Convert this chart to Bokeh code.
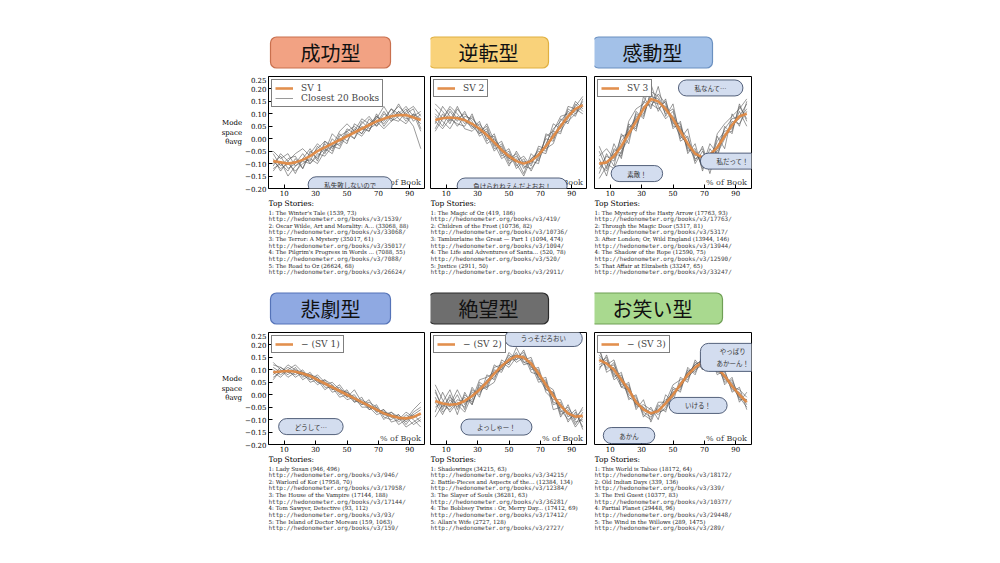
import numpy as np
from bokeh.plotting import figure
from bokeh.models import Range1d, FixedTicker, Label, Legend, LegendItem
from bokeh.layouts import row, column
from bokeh.core.properties import value
from bokeh.embed import file_html
from bokeh.resources import INLINE

x_pct = list(np.linspace(3, 97, 21))
y_ticks = [-0.20, -0.15, -0.10, -0.05, 0.00, 0.05, 0.10, 0.15, 0.20, 0.25]
y_tick_labels = ["−0.20", "−0.15", "−0.10", "−0.05", "0.00", "0.05", "0.10", "0.15", "0.20", "0.25"]
x_ticks = [10, 30, 50, 70, 90]

sv = [
    [-0.09,-0.095,-0.10,-0.095,-0.085,-0.07,-0.05,-0.035,-0.02,-0.005,0.01,0.025,0.04,0.055,0.07,0.08,0.09,0.095,0.095,0.085,0.075],
    [0.075,0.082,0.085,0.082,0.075,0.06,0.04,0.015,-0.015,-0.045,-0.07,-0.09,-0.10,-0.09,-0.065,-0.03,0.01,0.05,0.09,0.12,0.135],
    [-0.10,-0.095,-0.07,-0.03,0.02,0.07,0.12,0.16,0.15,0.12,0.08,0.03,-0.02,-0.06,-0.075,-0.065,-0.035,0.01,0.055,0.09,0.10],
    [0.09,0.093,0.095,0.092,0.085,0.075,0.06,0.045,0.03,0.015,0.0,-0.015,-0.03,-0.045,-0.06,-0.075,-0.085,-0.093,-0.095,-0.09,-0.075],
    [-0.025,-0.035,-0.04,-0.037,-0.025,-0.005,0.02,0.05,0.085,0.115,0.14,0.155,0.15,0.125,0.085,0.04,-0.005,-0.045,-0.075,-0.088,-0.085],
    [0.14,0.125,0.10,0.06,0.02,-0.03,-0.06,-0.075,-0.065,-0.035,0.0,0.04,0.08,0.11,0.13,0.13,0.11,0.075,0.035,0.0,-0.03],
]

books_1 = [
    [-0.05,-0.08,-0.06,-0.11,-0.09,-0.10,-0.06,-0.07,-0.03,-0.04,0.02,0.00,0.05,0.03,0.09,0.07,0.12,0.10,0.13,0.09,0.06],
    [-0.12,-0.10,-0.13,-0.08,-0.12,-0.05,-0.08,-0.02,-0.05,0.02,-0.01,0.04,0.02,0.08,0.05,0.10,0.08,0.11,0.07,0.10,0.08],
    [-0.08,-0.13,-0.09,-0.14,-0.08,-0.09,-0.03,-0.06,0.00,-0.03,0.03,0.05,0.02,0.06,0.09,0.06,0.10,0.13,0.10,0.12,0.04],
    [-0.10,-0.07,-0.12,-0.10,-0.06,-0.10,-0.07,-0.04,-0.06,0.01,0.03,0.00,0.07,0.04,0.06,0.11,0.07,0.09,0.12,0.07,0.10],
    [-0.06,-0.11,-0.08,-0.07,-0.12,-0.06,-0.02,-0.05,-0.03,-0.02,0.04,0.02,0.06,0.09,0.05,0.08,0.12,0.08,0.06,0.10,0.03],
    [-0.13,-0.09,-0.15,-0.11,-0.08,-0.04,-0.09,-0.01,-0.04,0.00,-0.02,0.06,0.04,0.03,0.10,0.05,0.09,0.14,0.09,0.05,-0.04],
    [-0.09,-0.12,-0.10,-0.13,-0.10,-0.08,-0.10,-0.05,0.02,-0.01,0.01,0.03,0.08,0.06,0.08,0.13,0.08,0.07,0.11,0.13,0.09],
    [-0.11,-0.06,-0.09,-0.06,-0.04,-0.07,-0.04,-0.01,-0.03,0.03,0.06,0.03,0.01,0.05,0.07,0.04,0.07,0.11,0.08,0.09,0.11],
]
books_2 = [
    [0.12,0.08,0.13,0.10,0.06,0.09,0.03,0.05,-0.03,-0.01,-0.08,-0.06,-0.12,-0.08,-0.05,-0.06,0.03,0.02,0.12,0.10,0.15],
    [0.04,0.10,0.06,0.12,0.08,0.04,0.07,-0.01,0.02,-0.06,-0.04,-0.11,-0.08,-0.13,-0.07,0.00,-0.01,0.08,0.06,0.14,0.11],
    [0.09,0.05,0.11,0.07,0.11,0.05,0.02,0.04,-0.04,-0.03,-0.10,-0.08,-0.14,-0.06,-0.09,-0.02,0.04,0.07,0.11,0.09,0.16],
    [0.06,0.13,0.09,0.05,0.09,0.08,0.05,0.00,0.01,-0.07,-0.05,-0.12,-0.09,-0.10,-0.04,-0.05,0.02,0.03,0.08,0.15,0.12],
    [0.10,0.07,0.04,0.09,0.04,0.03,0.06,0.02,-0.05,-0.02,-0.09,-0.07,-0.11,-0.12,-0.08,0.01,0.03,0.09,0.10,0.11,0.14],
    [0.03,0.08,0.12,0.08,0.10,0.07,0.01,0.03,-0.02,-0.08,-0.06,-0.10,-0.15,-0.08,-0.06,-0.03,0.06,0.04,0.13,0.12,0.10],
    [0.14,0.11,0.07,0.13,0.07,0.05,0.04,-0.02,0.00,-0.04,-0.08,-0.09,-0.07,-0.11,-0.03,-0.04,-0.02,0.06,0.07,0.10,0.13],
    [0.07,0.04,0.08,0.06,0.05,0.10,0.02,0.06,-0.01,-0.05,-0.11,-0.05,-0.10,-0.09,-0.10,0.02,0.00,0.05,0.09,0.13,0.17],
]
books_3 = [
    [-0.05,-0.12,-0.02,-0.08,0.06,0.03,0.17,0.12,0.21,0.09,0.14,0.00,0.04,-0.09,-0.03,-0.12,0.01,-0.04,0.10,0.05,0.15],
    [-0.14,-0.06,-0.11,0.02,-0.02,0.11,0.08,0.19,0.11,0.16,0.04,0.07,-0.06,-0.02,-0.13,-0.04,-0.08,0.05,0.02,0.14,0.07],
    [-0.08,-0.15,-0.04,-0.06,0.07,0.12,0.14,0.22,0.13,0.08,0.11,-0.01,0.01,-0.10,-0.05,-0.10,0.02,0.06,0.09,0.12,0.16],
    [-0.12,-0.07,-0.09,-0.01,0.03,0.05,0.15,0.13,0.18,0.14,0.05,0.05,-0.04,-0.05,-0.11,-0.02,-0.06,0.00,0.07,0.06,0.11],
    [-0.03,-0.10,-0.12,-0.05,0.00,0.09,0.10,0.17,0.16,0.10,0.12,0.02,-0.03,-0.08,-0.07,-0.09,-0.01,0.03,0.04,0.11,0.05],
    [-0.16,-0.11,-0.05,-0.04,0.05,0.04,0.13,0.14,0.12,0.15,0.06,0.06,-0.05,-0.04,-0.12,-0.06,-0.04,0.04,0.08,0.09,0.14],
    [-0.07,-0.04,-0.08,0.01,0.02,0.10,0.09,0.19,0.17,0.11,0.09,0.04,0.00,-0.07,-0.04,-0.14,-0.03,0.02,0.03,0.13,0.08],
    [-0.10,-0.13,-0.06,-0.07,0.04,0.08,0.12,0.15,0.14,0.13,0.07,0.01,-0.02,-0.06,-0.09,-0.07,-0.05,0.01,0.06,0.08,0.12],
]
books_4 = [
    [0.11,0.09,0.12,0.10,0.09,0.08,0.07,0.04,0.05,0.02,0.01,-0.01,-0.03,-0.04,-0.07,-0.06,-0.09,-0.08,-0.11,-0.07,-0.05],
    [0.08,0.11,0.09,0.08,0.10,0.06,0.08,0.05,0.02,0.03,-0.01,0.00,-0.04,-0.03,-0.05,-0.08,-0.07,-0.10,-0.09,-0.12,-0.10],
    [0.13,0.10,0.08,0.11,0.07,0.09,0.05,0.06,0.04,0.00,0.02,-0.03,-0.01,-0.06,-0.04,-0.09,-0.10,-0.08,-0.12,-0.08,-0.06],
    [0.07,0.09,0.11,0.09,0.08,0.06,0.07,0.03,0.03,0.01,-0.02,-0.01,-0.05,-0.05,-0.08,-0.07,-0.08,-0.11,-0.08,-0.10,-0.13],
    [0.10,0.08,0.10,0.07,0.09,0.07,0.04,0.06,0.02,0.04,0.00,-0.03,-0.02,-0.04,-0.06,-0.08,-0.09,-0.09,-0.10,-0.06,-0.03],
    [0.12,0.11,0.09,0.10,0.06,0.08,0.06,0.02,0.04,0.01,0.01,-0.02,-0.04,-0.02,-0.07,-0.06,-0.11,-0.10,-0.07,-0.09,-0.08],
    [0.09,0.07,0.10,0.12,0.09,0.05,0.06,0.05,0.01,0.02,-0.01,0.02,-0.03,-0.06,-0.05,-0.10,-0.07,-0.09,-0.13,-0.11,-0.09],
    [0.06,0.10,0.07,0.09,0.08,0.08,0.05,0.04,0.03,-0.01,0.00,-0.02,-0.03,-0.05,-0.06,-0.07,-0.08,-0.12,-0.10,-0.08,-0.11],
]
books_5 = [
    [0.02,-0.06,0.00,-0.08,0.01,-0.04,0.05,0.03,0.12,0.10,0.17,0.14,0.18,0.10,0.11,0.02,0.01,-0.08,-0.06,-0.12,-0.07],
    [-0.07,0.01,-0.05,0.00,-0.06,0.03,-0.01,0.08,0.06,0.14,0.12,0.19,0.13,0.14,0.06,0.07,-0.04,-0.03,-0.11,-0.07,-0.13],
    [-0.03,-0.08,-0.02,-0.05,-0.01,-0.04,0.04,0.02,0.10,0.09,0.15,0.16,0.14,0.15,0.07,0.04,0.02,-0.07,-0.05,-0.10,-0.05],
    [0.04,-0.02,-0.07,-0.03,-0.05,0.02,0.00,0.06,0.08,0.13,0.11,0.15,0.17,0.11,0.10,0.01,-0.02,-0.02,-0.09,-0.06,-0.14],
    [-0.05,-0.03,0.02,-0.06,0.00,-0.03,0.03,0.05,0.07,0.11,0.16,0.13,0.15,0.12,0.05,0.06,-0.06,-0.05,-0.07,-0.13,-0.09],
    [-0.01,-0.07,-0.04,0.02,-0.04,0.01,0.01,0.04,0.11,0.12,0.13,0.17,0.12,0.13,0.09,0.03,0.00,-0.06,-0.10,-0.08,-0.11],
    [-0.09,-0.04,-0.06,-0.02,-0.03,-0.02,0.06,0.07,0.09,0.10,0.14,0.14,0.16,0.09,0.08,0.05,-0.03,-0.04,-0.08,-0.09,-0.06],
    [0.01,-0.05,-0.01,-0.04,-0.07,0.00,0.02,0.03,0.05,0.12,0.13,0.16,0.13,0.12,0.07,0.02,0.01,-0.09,-0.04,-0.11,-0.10],
]
books_6 = [
    [0.18,0.10,0.13,0.03,0.05,-0.06,-0.02,-0.11,-0.04,-0.07,0.03,0.01,0.11,0.08,0.16,0.10,0.14,0.04,0.07,-0.03,0.01],
    [0.10,0.16,0.07,0.09,-0.02,0.00,-0.09,-0.05,-0.10,0.00,-0.03,0.07,0.05,0.14,0.10,0.16,0.08,0.10,0.01,0.03,-0.06],
    [0.16,0.12,0.14,0.05,0.03,-0.04,-0.05,-0.08,-0.06,-0.04,0.02,0.03,0.09,0.12,0.14,0.12,0.13,0.06,0.05,-0.02,-0.02],
    [0.12,0.14,0.08,0.07,0.00,-0.02,-0.07,-0.09,-0.05,-0.02,-0.01,0.05,0.07,0.10,0.12,0.15,0.09,0.08,0.02,0.01,-0.04],
    [0.19,0.09,0.11,0.04,0.04,-0.05,-0.04,-0.06,-0.08,-0.05,0.01,0.02,0.10,0.09,0.15,0.11,0.12,0.05,0.06,-0.01,-0.05],
    [0.13,0.15,0.06,0.08,0.01,-0.01,-0.08,-0.10,-0.03,-0.03,0.04,0.06,0.06,0.13,0.11,0.14,0.10,0.09,0.03,0.02,-0.01],
    [0.15,0.11,0.12,0.06,-0.01,-0.03,-0.06,-0.07,-0.07,-0.06,0.00,0.04,0.09,0.11,0.13,0.12,0.11,0.07,0.04,0.00,-0.03],
    [0.11,0.13,0.09,0.03,0.02,-0.04,-0.05,-0.08,-0.06,-0.03,0.01,0.03,0.08,0.12,0.14,0.14,0.10,0.07,0.03,-0.01,-0.02],
]
books = [books_1, books_2, books_3, books_4, books_5, books_6]

type_names = ["成功型", "逆転型", "感動型", "悲劇型", "絶望型", "お笑い型"]
type_fill = ["#f2a283", "#f9d27a", "#a3c1e8", "#8fa9e2", "#6e6e6e", "#a9d98f"]
type_line = ["#c9704e", "#e0b040", "#6a90c0", "#5573b8", "#2a2a2a", "#6f9f55"]
legend_labels = ["SV 1", "SV 2", "SV 3", "− (SV 1)", "− (SV 2)", "− (SV 3)"]

stories = [
    [("1: The Winter's Tale (1539, 73)", "1539"), ("2: Oscar Wilde, Art and Morality: A... (33068, 88)", "33068"),
     ("3: The Terror: A Mystery (35017, 61)", "35017"), ("4: The Pilgrim's Progress in Words ... (7088, 55)", "7088"),
     ("5: The Road to Oz (26624, 68)", "26624")],
    [("1: The Magic of Oz (419, 186)", "419"), ("2: Children of the Frost (10736, 82)", "10736"),
     ("3: Tamburlaine the Great — Part 1 (1094, 474)", "1094"), ("4: The Life and Adventures of Santa... (520, 78)", "520"),
     ("5: Justice (2911, 50)", "2911")],
    [("1: The Mystery of the Hasty Arrow (17763, 93)", "17763"), ("2: Through the Magic Door (5317, 81)", "5317"),
     ("3: After London; Or, Wild England (13944, 146)", "13944"), ("4: The Shadow of the Rope (12590, 75)", "12590"),
     ("5: That Affair at Elizabeth (33247, 65)", "33247")],
    [("1: Lady Susan (946, 496)", "946"), ("2: Warlord of Kor (17958, 70)", "17958"),
     ("3: The House of the Vampire (17144, 188)", "17144"), ("4: Tom Sawyer, Detective (93, 112)", "93"),
     ("5: The Island of Doctor Moreau (159, 1063)", "159")],
    [("1: Shadowings (34215, 63)", "34215"), ("2: Battle-Pieces and Aspects of the... (12384, 134)", "12384"),
     ("3: The Slayer of Souls (36281, 63)", "36281"), ("4: The Bobbsey Twins : Or, Merry Day... (17412, 69)", "17412"),
     ("5: Allan's Wife (2727, 128)", "2727")],
    [("1: This World is Taboo (18172, 64)", "18172"), ("2: Old Indian Days (339, 136)", "339"),
     ("3: The Evil Guest (10377, 83)", "10377"), ("4: Partial Planet (29448, 96)", "29448"),
     ("5: The Wind in the Willows (289, 1475)", "289")],
]

callouts = [
    [("私失敗しないので", 52, -0.185)],
    [("負けられねえんだよおお！", 52, -0.19)],
    [("私なんて…", 74, 0.204), ("私だって！", 88, -0.09), ("素敵！", 27, -0.14)],
    [("どうして…", 27, -0.128)],
    [("よっしゃー！", 42, -0.13), ("うっそだろおい", 72, 0.226)],
    [("あかん", 22, -0.164), ("いける！", 66, -0.043), ("やっぱり\nあかーん！", 88, 0.15)],
]

SERIF = "DejaVu Serif"
MONO = "DejaVu Sans Mono"
JP = "Noto Sans CJK JP"
FW = 157  # frame width in px

def borders(i):
    k = i % 3
    return [268, 5, 7][k], [0, 0, 25][k]

def bare(i, h, yr):
    bl, br = borders(i)
    p = figure(width=FW + bl + br, height=h, x_range=Range1d(0, FW), y_range=yr,
               output_backend="svg", toolbar_location=None,
               min_border_left=bl, min_border_right=br, min_border_top=0, min_border_bottom=0,
               x_axis_location=None, y_axis_location=None)
    p.grid.visible = False
    p.outline_line_color = None
    return p

def make_title(i):
    h = 76 if i < 3 else 47
    p = bare(i, h, Range1d(0, h))
    cx = [62, 58, 58][i % 3]
    p.add_layout(Label(x=cx, y=24, text=type_names[i], text_font=JP,
                       text_font_size="20px", text_align="center", text_baseline="middle",
                       text_color="#111111",
                       background_fill_color=type_fill[i], border_line_color=type_line[i],
                       border_line_width=1.2, padding=(30, 30, 1, 1), border_radius=6))
    return p

def make_plot(i):
    first = i % 3 == 0
    bl, br = borders(i)
    p = figure(width=FW + bl + br, height=112 + 11,
               x_range=Range1d(0, 100), y_range=Range1d(-0.2, 0.25),
               output_backend="svg", toolbar_location=None,
               min_border_left=bl, min_border_right=br, min_border_top=0, min_border_bottom=11,
               y_axis_location="left" if first else None)
    p.grid.visible = False
    p.outline_line_color = "black"
    p.xaxis.ticker = FixedTicker(ticks=x_ticks)
    p.xaxis.major_tick_in = 4
    p.xaxis.major_tick_out = 0
    p.xaxis.minor_tick_line_color = None
    p.xaxis.axis_line_color = None
    p.xaxis.major_label_text_font = SERIF
    p.xaxis.major_label_text_font_size = "7px"
    p.xaxis.major_label_text_color = "black"
    p.xaxis.major_label_standoff = 1
    if first:
        p.yaxis.ticker = FixedTicker(ticks=y_ticks)
        p.yaxis.major_label_overrides = {t: l for t, l in zip(y_ticks, y_tick_labels)}
        p.yaxis.major_tick_in = 4
        p.yaxis.major_tick_out = 0
        p.yaxis.minor_tick_line_color = None
        p.yaxis.axis_line_color = None
        p.yaxis.major_label_text_font = SERIF
        p.yaxis.major_label_text_font_size = "7px"
        p.yaxis.major_label_text_color = "black"
        p.yaxis.major_label_standoff = 2
        p.yaxis.axis_label = "Mode\nspace\nθavg"
        p.yaxis.axis_label_orientation = "horizontal"
        p.yaxis.axis_label_text_font = SERIF
        p.yaxis.axis_label_text_font_style = "normal"
        p.yaxis.axis_label_text_font_size = "7px"
        p.yaxis.axis_label_text_color = "black"
        p.yaxis.axis_label_standoff = 0
    grey = [p.line(x_pct, b, line_color="#555555", line_width=0.7, line_alpha=0.85) for b in books[i]]
    orange = p.line(x_pct, sv[i], line_color="#e08a45", line_width=2.6, line_alpha=0.95)
    items = [LegendItem(label=legend_labels[i], renderers=[orange])]
    if i == 0:
        items.append(LegendItem(label="Closest 20 Books", renderers=[grey[0]]))
    p.add_layout(Legend(items=items, location="top_left", label_text_font=SERIF, label_text_font_size="9px",
                        border_line_color="black", border_line_width=0.8, glyph_width=18, glyph_height=10,
                        label_height=10, spacing=0, padding=3, margin=3, label_standoff=8))
    p.add_layout(Label(x=97, y=-0.193, text="% of Book", text_font=SERIF, text_font_size="8px",
                       text_align="right", text_baseline="bottom"))
    for t, cx, cy in callouts[i]:
        p.add_layout(Label(x=cx, y=cy, text=t, text_font=JP, text_font_size="6.5px",
                           text_align="center", text_baseline="middle", text_color="#333333",
                           background_fill_color="#d3ddef", border_line_color="#2d3c5a",
                           border_line_width=0.8, padding=(16, 16, 3, 3), border_radius=8))
    return p

def make_text(i):
    p = bare(i, 86, Range1d(86, 0))
    p.text(x=[0], y=[4], text=["Top Stories:"], text_font=value(SERIF), text_font_size="7.5px",
           text_baseline="middle", text_color="black")
    ts, us, ty, uy = [], [], [], []
    for k, (title, bid) in enumerate(stories[i]):
        off = 13 + 13.3 * k
        ts.append(title); ty.append(off)
        us.append("http://hedonometer.org/books/v3/%s/" % bid); uy.append(off + 6)
    p.text(x=[0] * 5, y=ty, text=ts, text_font=value(SERIF), text_font_size="5.6px",
           text_baseline="middle", text_color="#222222")
    p.text(x=[0] * 5, y=uy, text=us, text_font=value(MONO), text_font_size="6px",
           text_baseline="middle", text_color="#444444")
    return p

cols = [column(make_title(i), make_plot(i), make_text(i), spacing=0) for i in range(6)]
r1 = row(*cols[:3], spacing=0)
r2 = row(*cols[3:], spacing=0)
layout = column(r1, r2, spacing=0)
open("out.html", "w").write(file_html(layout, INLINE))
